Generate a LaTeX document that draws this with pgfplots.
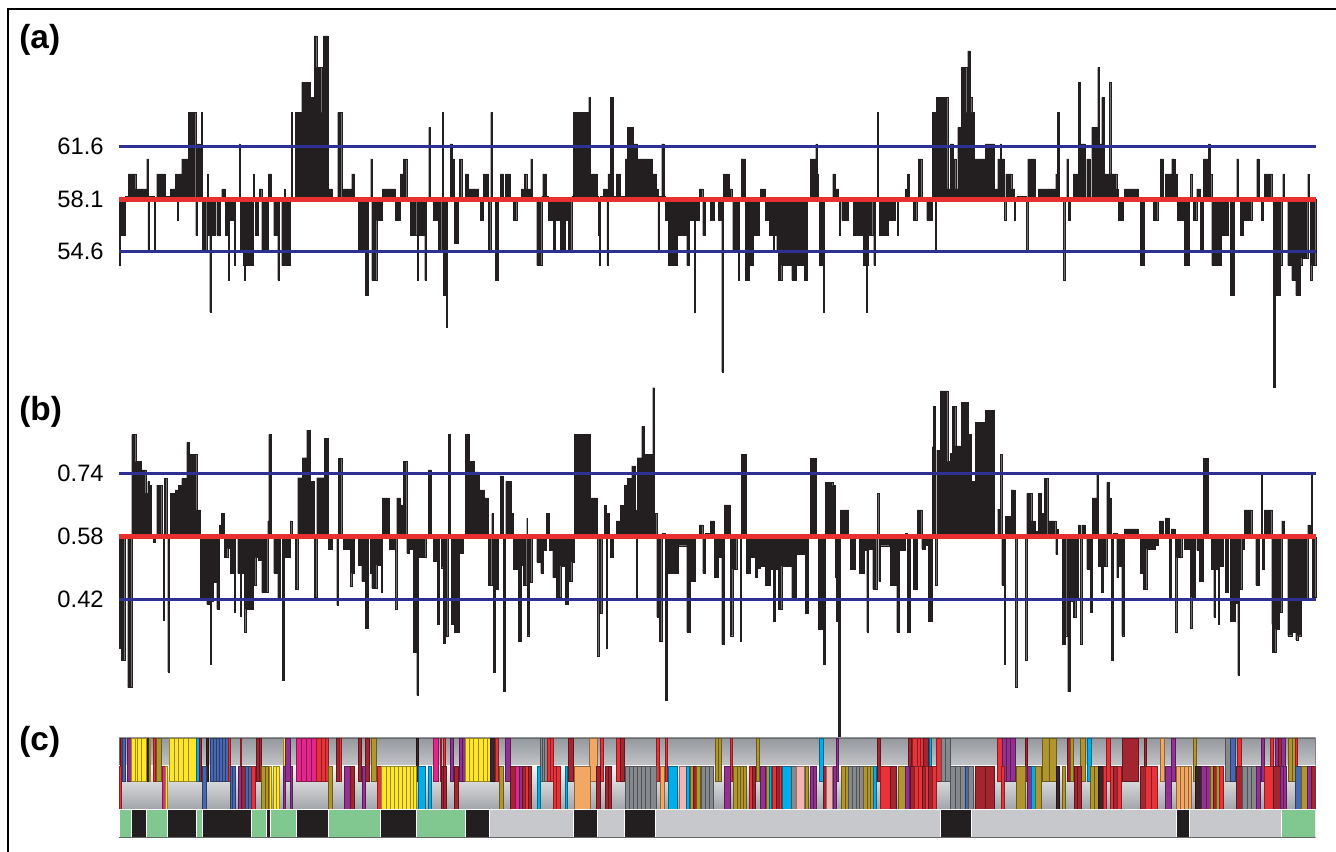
\documentclass[border=0pt]{standalone}
\usepackage{fontspec}
\setmainfont{Liberation Sans}
\usepackage{pgfplots}
\pgfplotsset{compat=1.18}
\usepackage{pgfplotstable}

\definecolor{barblack}{HTML}{231F20}
\definecolor{linered}{HTML}{E8312F}
\definecolor{lineblue}{HTML}{2E3192}
\definecolor{cY}{HTML}{FFE629}
\definecolor{cB}{HTML}{4767B1}
\definecolor{cM}{HTML}{E2268C}
\definecolor{cR}{HTML}{E8323A}
\definecolor{cDR}{HTML}{A32530}
\definecolor{cP}{HTML}{933191}
\definecolor{cO}{HTML}{B0962D}
\definecolor{cC}{HTML}{00AEEA}
\definecolor{cOR}{HTML}{F2A862}
\definecolor{cLP}{HTML}{F3B5B4}
\definecolor{cG}{HTML}{85898D}
\definecolor{cDK}{HTML}{3B2426}
\definecolor{cGR}{HTML}{80C88F}
\definecolor{cBK}{HTML}{231F20}
\definecolor{cLG}{HTML}{C6C8CC}
\definecolor{trackdark}{HTML}{95989D}
\definecolor{trackmid}{HTML}{DCDDE0}
\definecolor{tracklight}{HTML}{F4F4F4}
\definecolor{trackdark2}{HTML}{A2A5AA}

\pgfplotstableread[row sep=\\]{
x v\\
119 53.7\\ 120.5 55.7\\ 125 58.3\\ 128.3 59.8\\ 135.7 58.8\\ 146.7 60.8\\ 147.8 54.7\\ 149 58.3\\ 154 54.7\\ 155.3 58.1\\
156.7 59.8\\ 165 58.3\\ 170 58.8\\ 175 59.8\\ 177.5 56.7\\ 178.5 59.8\\ 181.7 60.8\\ 188.3 63.9\\ 195.7 55.7\\ 197 61.8\\
200 58.1\\ 201 63.9\\ 202.3 54.7\\ 206.7 58.1\\ 207.3 59.8\\ 208.3 55.7\\ 209.7 50.6\\ 210.7 55.7\\ 215 58.1\\ 216.7 55.7\\
220 58.1\\ 221.7 58.8\\ 225 55.7\\ 228 52.7\\ 229 58.1\\ 230 56.7\\ 234 53.7\\ 235 58.1\\ 239 61.8\\ 240 54.7\\
243.3 53.7\\ 244 52.7\\ 245 53.7\\ 253.3 59.8\\ 254.3 58.1\\ 255 55.7\\ 258.3 58.1\\ 259 58.8\\ 261.7 54.7\\ 268.3 59.8\\
271 58.1\\ 273.7 55.7\\ 277.7 52.7\\ 278.7 58.1\\ 281.7 53.7\\ 284 58.8\\ 285 53.7\\ 290 58.1\\ 291 63.9\\ 292 58.1\\
295 63.9\\ 301.7 65.9\\ 310 64.9\\ 314.3 69.0\\ 316.7 66.9\\ 321.7 63.9\\ 323.3 69.0\\ 328.3 58.8\\ 332.3 58.1\\ 337.7 63.9\\
341.7 58.1\\ 343.3 58.8\\ 351.7 59.8\\ 354.3 58.1\\ 358.3 54.7\\ 365 51.7\\ 368.3 58.1\\ 370.7 60.8\\ 371.7 52.7\\ 376.7 56.7\\
382.3 58.8\\ 395 56.7\\ 400 59.8\\ 403.3 60.8\\ 406.7 58.1\\ 410 55.7\\ 416.7 58.1\\ 417.3 52.7\\ 418.3 58.1\\ 419 55.7\\
424.7 52.7\\ 425.7 58.1\\ 428.7 62.9\\ 429.7 58.1\\ 433.3 56.7\\ 438.3 54.7\\ 441.7 58.1\\ 442 63.9\\ 443 51.7\\ 445 58.1\\
446.3 49.6\\ 447.3 58.1\\ 450 61.8\\ 452.3 60.8\\ 454.3 55.2\\ 458.3 58.1\\ 459.3 60.8\\ 461.7 58.1\\ 465 59.8\\ 468.3 58.8\\
478.3 58.1\\ 480 56.7\\ 483.3 59.8\\ 488.3 54.7\\ 490.7 63.9\\ 491.7 58.1\\ 495 52.7\\ 498.3 58.1\\ 500 59.8\\ 503.3 58.1\\
505 59.8\\ 510 58.1\\ 513.3 56.7\\ 516.7 58.1\\ 521 58.8\\ 523.3 58.1\\ 524.3 59.8\\ 526.7 58.8\\ 530 58.1\\ 530.7 60.8\\
531.7 58.1\\ 536.7 53.7\\ 541.7 58.3\\ 542.7 59.8\\ 546 58.3\\ 548.3 56.7\\ 553.3 54.7\\ 555 56.7\\ 560 54.7\\ 565 56.7\\
568.3 54.7\\ 571.7 58.3\\ 573.3 63.9\\ 588.7 64.9\\ 590 59.8\\ 597.3 58.3\\ 598 55.7\\ 599 53.7\\ 600 58.3\\ 603.3 58.8\\
606.8 53.7\\ 607.8 59.8\\ 610.5 64.9\\ 613.3 58.3\\ 616 59.8\\ 620 58.3\\ 625 60.8\\ 627.3 62.9\\ 633.3 61.8\\ 637.3 60.8\\
652 59.8\\ 656 58.8\\ 657.8 54.7\\ 658.8 58.3\\ 661.7 61.8\\ 664 58.3\\ 665 56.7\\ 668.3 53.7\\ 677.3 55.7\\ 686.7 53.7\\
689.3 58.1\\ 690 56.7\\ 694.5 50.6\\ 695.5 58.1\\ 696 56.7\\ 699.3 58.8\\ 702.7 55.7\\ 705.3 58.1\\ 710 56.7\\ 714 58.1\\
718.3 56.7\\ 721.7 46.6\\ 723.5 59.8\\ 729.3 58.1\\ 730 58.8\\ 731.7 58.1\\ 732.7 54.7\\ 738 52.7\\ 739 58.1\\ 741 60.8\\
745 52.7\\ 749.3 53.7\\ 753.3 55.7\\ 759.3 58.1\\ 760 58.8\\ 765 56.7\\ 769.3 55.7\\ 773 54.7\\ 774 55.7\\ 776.7 54.7\\
778.3 52.7\\ 781.7 53.7\\ 791.7 52.7\\ 796 53.7\\ 804 52.7\\ 807.3 58.1\\ 810 60.8\\ 815 58.8\\ 815.7 61.8\\ 816.7 59.8\\
818.3 58.1\\ 819.3 53.7\\ 823.5 50.6\\ 824.5 58.1\\ 832.7 59.8\\ 835 58.8\\ 838.3 58.1\\ 839 55.7\\ 840 58.1\\ 841.7 56.7\\
848.3 58.1\\ 853.3 55.7\\ 863.3 53.7\\ 866.5 50.6\\ 867.5 53.7\\ 868.3 55.7\\ 872.7 58.1\\ 873.7 53.7\\ 874.7 58.1\\ 877.3 63.9\\
878.3 58.1\\ 879.3 55.7\\ 888.3 58.1\\ 889.3 56.7\\ 895 58.1\\ 897 55.7\\ 898 58.1\\ 905 58.8\\ 907.5 59.8\\ 909 58.1\\
913.3 56.7\\ 916.7 58.1\\ 918.3 60.8\\ 921.7 58.1\\ 926.7 56.7\\ 932.3 63.9\\ 935 54.7\\ 936.3 64.9\\ 947.7 58.8\\ 950 61.8\\
953.3 60.8\\ 955.7 58.8\\ 957.7 62.9\\ 961 66.9\\ 966.7 63.9\\ 967.7 68.0\\ 970 64.9\\ 971.7 63.9\\ 974.3 60.8\\ 985 61.8\\
994.3 58.8\\ 997.7 60.8\\ 1000 61.8\\ 1001 60.8\\ 1004.3 56.7\\ 1005.7 59.8\\ 1011.7 58.8\\ 1014.5 56.7\\ 1015.5 58.1\\ 1016.7 58.3\\
1026.3 54.7\\ 1027.7 60.8\\ 1035 58.1\\ 1038.3 58.8\\ 1055.7 59.8\\ 1057.5 63.9\\ 1059 58.1\\ 1063.3 52.7\\ 1064.7 58.1\\ 1066.7 60.8\\
1068.3 56.7\\ 1070 58.1\\ 1073.3 59.8\\ 1078.3 65.9\\ 1080 61.8\\ 1085 58.1\\ 1086.7 60.8\\ 1090 58.1\\ 1091.7 62.9\\ 1097.7 66.9\\
1099 61.8\\ 1101.7 64.9\\ 1104 59.8\\ 1109 65.9\\ 1110.7 59.8\\ 1116.7 58.8\\ 1118.3 56.7\\ 1123.3 58.1\\ 1124.3 58.8\\ 1138.3 58.1\\
1140 53.7\\ 1144.3 58.1\\ 1153.3 56.7\\ 1157.7 58.1\\ 1160 60.8\\ 1163.3 58.1\\ 1165 59.8\\ 1171.7 60.8\\ 1175 59.8\\ 1177 56.7\\
1184.3 53.7\\ 1189 58.1\\ 1190 59.8\\ 1191.7 58.1\\ 1193.3 56.7\\ 1196.7 58.8\\ 1200 54.7\\ 1203.3 60.8\\ 1208.3 61.8\\ 1210 59.8\\
1211.7 53.7\\ 1221 55.7\\ 1224.3 56.7\\ 1225 55.7\\ 1228.3 58.1\\ 1230 51.7\\ 1234.3 58.1\\ 1236.7 60.8\\ 1238.3 58.1\\ 1240 55.7\\
1243.3 56.7\\ 1251.7 58.1\\ 1256.7 60.8\\ 1259 58.1\\ 1261 56.7\\ 1263.3 58.1\\ 1264.3 59.8\\ 1271.7 58.1\\ 1273.3 45.6\\ 1275 51.7\\
1280 53.7\\ 1281.7 58.1\\ 1282.7 59.8\\ 1284.3 58.1\\ 1287.7 53.7\\ 1291.7 52.7\\ 1295.7 51.7\\ 1300 53.7\\ 1301.7 54.2\\ 1307.7 59.8\\
1309 58.1\\ 1310 52.7\\ 1311.7 53.7\\ 1315.7 53.7\\
}\dataA

\pgfplotstableread[row sep=\\]{
x v\\
119 0.296\\ 121 0.266\\ 124.7 0.58\\ 127.7 0.196\\ 131.7 0.840\\ 135.7 0.771\\ 141 0.750\\ 145.7 0.690\\ 147.7 0.720\\ 149 0.711\\
151 0.58\\ 153.3 0.567\\ 155 0.58\\ 156.7 0.711\\ 161.7 0.58\\ 163.3 0.368\\ 164.3 0.728\\ 166.7 0.58\\ 167.7 0.236\\ 168.7 0.58\\
170 0.690\\ 175 0.699\\ 178.3 0.711\\ 181.7 0.728\\ 186.7 0.820\\ 189 0.790\\ 196.7 0.648\\ 200 0.423\\ 206.7 0.408\\ 210 0.255\\
211 0.415\\ 213.3 0.465\\ 216.7 0.396\\ 219 0.610\\ 221 0.639\\ 224.3 0.527\\ 227.7 0.550\\ 230 0.487\\ 234.3 0.387\\ 235.5 0.58\\
237.7 0.487\\ 240 0.379\\ 241.3 0.487\\ 244.3 0.337\\ 245.7 0.396\\ 253.3 0.457\\ 255.7 0.527\\ 258.3 0.521\\ 261.7 0.438\\ 267.7 0.620\\
268.7 0.840\\ 271.3 0.58\\ 273.7 0.487\\ 277 0.58\\ 277.7 0.423\\ 280 0.58\\ 282.3 0.215\\ 284 0.527\\ 290 0.620\\ 291.7 0.58\\
295 0.447\\ 297.7 0.730\\ 302.3 0.781\\ 306.7 0.851\\ 310 0.720\\ 314.3 0.427\\ 316.7 0.730\\ 324.3 0.830\\ 328.3 0.549\\ 332.3 0.58\\
336.7 0.406\\ 338 0.779\\ 341.7 0.58\\ 343.3 0.549\\ 350 0.453\\ 351.7 0.487\\ 354.3 0.58\\ 358.3 0.508\\ 361.7 0.467\\ 365 0.347\\
368.3 0.58\\ 370 0.487\\ 371.7 0.449\\ 376.7 0.508\\ 381 0.438\\ 382.3 0.679\\ 389 0.549\\ 395 0.396\\ 396.7 0.679\\ 400 0.661\\
403.3 0.771\\ 406.7 0.538\\ 409 0.549\\ 413.3 0.287\\ 416.7 0.177\\ 418.3 0.527\\ 425.7 0.58\\ 428.3 0.750\\ 431 0.58\\ 433.3 0.518\\
437.3 0.357\\ 439 0.58\\ 441 0.501\\ 443.3 0.309\\ 445 0.326\\ 447.7 0.58\\ 448.3 0.840\\ 450 0.58\\ 451 0.357\\ 454.3 0.337\\
459.3 0.58\\ 460 0.538\\ 463.3 0.58\\ 465 0.840\\ 469 0.771\\ 474.3 0.745\\ 479 0.699\\ 484.3 0.679\\ 488.3 0.457\\ 491.7 0.639\\
493.3 0.236\\ 495 0.447\\ 498.3 0.58\\ 500 0.735\\ 503.3 0.186\\ 505 0.58\\ 505.7 0.720\\ 511 0.639\\ 513.3 0.498\\ 518.3 0.315\\
521 0.508\\ 523.3 0.457\\ 526.7 0.628\\ 527.3 0.328\\ 529.3 0.465\\ 531.7 0.58\\ 536.7 0.516\\ 540.7 0.487\\ 543.3 0.546\\ 546 0.639\\
549.3 0.546\\ 552.7 0.476\\ 556 0.427\\ 560.7 0.506\\ 565 0.408\\ 568.3 0.467\\ 571.7 0.516\\ 574 0.840\\ 590 0.679\\ 597.3 0.277\\
598.7 0.58\\ 599.3 0.385\\ 601.7 0.58\\ 604 0.659\\ 606 0.296\\ 607.3 0.639\\ 609.3 0.58\\ 610 0.527\\ 613.3 0.58\\ 616 0.620\\
620 0.659\\ 624 0.710\\ 627.3 0.728\\ 631.7 0.760\\ 635 0.648\\ 636.5 0.423\\ 637.3 0.781\\ 641.7 0.860\\ 644 0.789\\ 652.7 0.959\\
654.3 0.639\\ 656.7 0.376\\ 657.7 0.58\\ 659.3 0.315\\ 661.7 0.588\\ 665 0.164\\ 667.3 0.487\\ 678.3 0.557\\ 686.7 0.337\\ 690 0.467\\
695 0.58\\ 699.3 0.610\\ 702.7 0.487\\ 705 0.588\\ 710 0.620\\ 714 0.476\\ 718.3 0.527\\ 721.7 0.306\\ 724 0.661\\ 730 0.328\\
732.7 0.498\\ 736.7 0.58\\ 740 0.315\\ 741 0.789\\ 746 0.487\\ 750 0.527\\ 755 0.476\\ 757.3 0.499\\ 760 0.506\\ 765 0.457\\
770 0.498\\ 773.3 0.365\\ 775 0.498\\ 778.3 0.396\\ 781.7 0.506\\ 791.7 0.423\\ 796 0.535\\ 805 0.385\\ 808.3 0.58\\ 810 0.779\\
816 0.58\\ 818.3 0.345\\ 823.3 0.255\\ 825 0.718\\ 832.7 0.710\\ 835 0.476\\ 836 0.365\\ 838.5 0.067\\ 840.5 0.648\\ 848.3 0.58\\
850 0.498\\ 855 0.58\\ 859.3 0.487\\ 864 0.546\\ 866.7 0.337\\ 868.3 0.58\\ 869.3 0.549\\ 872.7 0.447\\ 876.7 0.58\\ 877.3 0.690\\
878.7 0.467\\ 880 0.557\\ 889.3 0.58\\ 890 0.457\\ 896 0.58\\ 896.7 0.337\\ 899.3 0.546\\ 905 0.588\\ 907.3 0.337\\ 910 0.58\\
913.3 0.447\\ 917.3 0.648\\ 921.7 0.549\\ 925 0.559\\ 928.3 0.365\\ 932.3 0.809\\ 933.3 0.911\\ 935 0.457\\ 936.7 0.800\\ 940 0.951\\
947.7 0.771\\ 950 0.792\\ 952.3 0.911\\ 955.7 0.811\\ 961 0.922\\ 968.3 0.840\\ 971 0.720\\ 974.3 0.58\\ 975 0.871\\ 985 0.902\\
994.3 0.58\\ 997.7 0.650\\ 1000 0.789\\ 1001.7 0.457\\ 1004 0.255\\ 1005.3 0.631\\ 1011 0.699\\ 1015 0.196\\ 1016.7 0.58\\ 1025 0.266\\
1026.7 0.690\\ 1031.7 0.620\\ 1035 0.593\\ 1038.3 0.690\\ 1041 0.639\\ 1044.3 0.728\\ 1047.7 0.58\\ 1049 0.620\\ 1055.7 0.535\\ 1056.7 0.600\\
1058.3 0.58\\ 1062.3 0.306\\ 1065 0.328\\ 1066.7 0.58\\ 1067.7 0.186\\ 1070 0.415\\ 1073.3 0.376\\ 1075.7 0.423\\ 1078.3 0.610\\ 1080 0.306\\
1081.7 0.610\\ 1085 0.58\\ 1086.7 0.498\\ 1090 0.387\\ 1092.3 0.679\\ 1096.7 0.737\\ 1098.3 0.506\\ 1101 0.438\\ 1103.3 0.506\\ 1106.7 0.718\\
1109.3 0.679\\ 1111 0.266\\ 1113.3 0.588\\ 1116.7 0.476\\ 1118.3 0.506\\ 1121.7 0.328\\ 1124.3 0.600\\ 1138.3 0.58\\ 1140 0.487\\ 1143.3 0.447\\
1146.7 0.549\\ 1155 0.559\\ 1158.3 0.58\\ 1159.3 0.620\\ 1163.3 0.58\\ 1165 0.628\\ 1169 0.427\\ 1171 0.600\\ 1175 0.337\\ 1176.7 0.527\\
1181.7 0.58\\ 1184.3 0.549\\ 1189 0.58\\ 1190 0.347\\ 1191.7 0.427\\ 1195 0.58\\ 1196.7 0.546\\ 1199 0.467\\ 1203.3 0.779\\ 1208.3 0.58\\
1211 0.498\\ 1213.7 0.376\\ 1214.7 0.498\\ 1218.3 0.357\\ 1219.5 0.506\\ 1223.3 0.58\\ 1225 0.438\\ 1228.3 0.58\\ 1230 0.365\\ 1235 0.410\\
1237.7 0.228\\ 1239.3 0.447\\ 1241.7 0.58\\ 1243.3 0.549\\ 1244.3 0.648\\ 1251.7 0.58\\ 1255.7 0.457\\ 1259 0.58\\ 1261 0.737\\ 1262.3 0.498\\
1264.3 0.648\\ 1271.7 0.357\\ 1272.3 0.286\\ 1275.7 0.345\\ 1279 0.387\\ 1281.7 0.620\\ 1284.3 0.58\\ 1287.7 0.328\\ 1292.3 0.337\\ 1295.7 0.317\\
1297.7 0.328\\ 1301 0.423\\ 1307.7 0.610\\ 1310 0.58\\ 1311 0.737\\ 1312.3 0.427\\ 1315.7 0.427\\
}\dataB

% gene boxes: upper strand row, lower strand row, bottom segment bar
\newcommand\gu[3]{\addplot[fill=c#3,draw=c#3!60!black,line width=0.3pt] coordinates {(#1,738)(#2,738)(#2,781)(#1,781)} -- cycle;}
\newcommand\gl[3]{\addplot[fill=c#3,draw=c#3!60!black,line width=0.3pt] coordinates {(#1,766)(#2,766)(#2,809)(#1,809)} -- cycle;}
\newcommand\sg[3]{\addplot[fill=c#3,draw=white,line width=0.4pt] coordinates {(#1,809)(#2,809)(#2,837)(#1,837)} -- cycle;}

\pgfplotsset{
  panel/.style={scale only axis, width=23.934cm, xmin=119, xmax=1315.7,
    axis line style={draw=none}, tick style={draw=none}, xtick=\empty,
    anchor=south west, /pgf/number format/assume math mode=true,
    yticklabel style={font=\fontsize{13.5}{16}\selectfont, inner sep=0pt, xshift=-0.3cm}},
}

\begin{document}
\begin{tikzpicture}
\path[use as bounding box] (0,0) rectangle (26.72cm,17.04cm);
\draw[line width=0.03cm] (0.16cm,0) -- (0.16cm,16.86cm) -- (26.72cm,16.86cm);

% ---------- panel (a)
\begin{axis}[panel, at={(2.38cm,9.2cm)}, height=7.28cm, ymin=-12.847, ymax=11.42, clip=false,
  ytick={-3.5,0,3.5}, yticklabels={54.6,58.1,61.6}]
\addplot[ybar interval, fill=barblack, draw=barblack, line width=0.2pt] table[x=x, y expr=\thisrow{v}-58.1]{\dataA};
\addplot[lineblue, line width=1.8pt] coordinates {(119,3.5) (1315.7,3.5)};
\addplot[lineblue, line width=1.8pt] coordinates {(119,-3.5) (1315.7,-3.5)};
\addplot[linered, line width=2.7pt] coordinates {(119,0) (1315.7,0)};
\end{axis}

% ---------- panel (b)
\begin{axis}[panel, at={(2.38cm,2.22cm)}, height=7.16cm, ymin=-0.5198, ymax=0.3911, clip=false,
  ytick={-0.16,0,0.16}, yticklabels={0.42,0.58,0.74}]
\addplot[ybar interval, fill=barblack, draw=barblack, line width=0.2pt] table[x=x, y expr=\thisrow{v}-0.58]{\dataB};
\addplot[lineblue, line width=1.8pt] coordinates {(119,0.16) (1315.7,0.16)};
\addplot[lineblue, line width=1.8pt] coordinates {(119,-0.16) (1315.7,-0.16)};
\addplot[linered, line width=2.7pt] coordinates {(119,0) (1315.7,0)};
\end{axis}

% ---------- panel (c)
\begin{axis}[panel, at={(2.38cm,0.24cm)}, height=2.1cm, ymin=735, ymax=840, y dir=reverse, ytick=\empty, clip=true]
\addplot[draw=trackdark!70!black, line width=0.4pt, top color=trackdark, bottom color=trackmid] coordinates {(119,738)(1315.7,738)(1315.7,781)(119,781)} -- cycle;
\addplot[draw=none, top color=tracklight, bottom color=trackdark2] coordinates {(119,766)(1315.7,766)(1315.7,809)(119,809)} -- cycle;
% upper strand
\gu{120}{122.3}{DR}\gu{122.3}{125}{B}\gu{127.7}{131.7}{P}\gu{131.7}{135.7}{Y}\gu{135.7}{137.7}{Y}\gu{137.7}{141.7}{Y}
\gu{141.7}{146}{Y}\gu{146}{147.7}{Y}\gu{147.7}{149}{DK}\gu{149}{150.5}{Y}\gu{153.3}{155}{R}\gu{156.7}{161.7}{O}
\gu{169.3}{174}{Y}\gu{174}{178}{Y}\gu{178}{183}{Y}\gu{183}{188}{Y}\gu{188}{196.7}{Y}\gu{196.7}{199}{C}\gu{199}{201}{DR}
\gu{206.7}{208.3}{DK}\gu{210}{213}{B}\gu{213}{216}{B}\gu{216}{219}{B}\gu{219}{222}{B}\gu{222}{225}{B}\gu{225}{228.3}{B}
\gu{228.3}{230}{R}\gu{240}{241.7}{R}\gu{256.7}{259}{DR}\gu{259}{261.7}{DR}\gu{283.3}{285.7}{Y}\gu{285.7}{290}{P}
\gu{296.7}{301}{M}\gu{301}{306}{M}\gu{306}{311}{M}\gu{311}{316.7}{M}\gu{316.7}{321.7}{R}\gu{321.7}{325}{R}\gu{325}{328.3}{R}
\gu{336.7}{339}{DR}\gu{339}{341.7}{R}\gu{358.3}{361}{DR}\gu{365.7}{369}{DR}\gu{371.7}{376.7}{O}\gu{416.7}{418.3}{DK}
\gu{433.3}{438.3}{M}\gu{440}{441.7}{R}\gu{443.3}{445.7}{R}\gu{450}{453.3}{P}\gu{459}{462}{P}\gu{462}{465}{P}
\gu{465}{469}{Y}\gu{469}{473}{Y}\gu{473}{478}{Y}\gu{478}{483}{Y}\gu{483}{487}{Y}\gu{487}{490}{Y}\gu{490}{495}{DK}
\gu{495}{498.3}{R}\gu{505}{510}{P}\gu{540.7}{542}{G}\gu{542}{544}{G}\gu{544}{547.3}{G}\gu{547.3}{550}{R}\gu{550}{553.3}{R}
\gu{568.3}{573.3}{DR}\gu{589.3}{597.3}{OR}\gu{600}{603.3}{R}\gu{616}{620}{R}\gu{620}{624}{DR}\gu{656.7}{659.3}{R}
\gu{665}{667.3}{R}\gu{715}{718}{O}\gu{718}{721.7}{O}\gu{730}{732.3}{R}\gu{756.7}{759.3}{O}\gu{819.3}{823.3}{C}
\gu{836}{838.3}{P}\gu{877.3}{880.7}{DR}\gu{908.3}{911.7}{DR}\gu{912.7}{917}{R}\gu{917}{920}{R}\gu{920}{923.3}{R}
\gu{923.3}{928.3}{DR}\gu{929}{931}{C}\gu{936.7}{941}{R}\gu{941}{945}{G}\gu{945}{950}{G}\gu{997.7}{1002.3}{R}
\gu{1002.3}{1006}{P}\gu{1006}{1010}{P}\gu{1010}{1015}{P}\gu{1025}{1027.7}{DR}\gu{1042.3}{1049}{O}\gu{1049}{1056.7}{O}
\gu{1067.7}{1070}{DR}\gu{1070}{1073.3}{O}\gu{1080}{1085}{O}\gu{1087.7}{1091}{C}\gu{1106.7}{1110}{R}\gu{1122.3}{1138.3}{DR}
\gu{1144.3}{1146.7}{DR}\gu{1160}{1164.3}{OR}\gu{1171}{1175}{P}\gu{1193.3}{1196.7}{O}\gu{1225}{1230}{G}\gu{1230}{1235}{B}
\gu{1237.7}{1241.7}{R}\gu{1261}{1264.3}{P}\gu{1270}{1273.3}{R}\gu{1275}{1278}{P}\gu{1278}{1281}{DR}\gu{1281}{1285}{P}
\gu{1288.3}{1292}{O}\gu{1292}{1295}{O}\gu{1295}{1297.7}{R}
% lower strand
\gl{119}{121}{R}\gl{162.3}{165}{M}\gl{165}{167.7}{Y}\gl{202.3}{206.7}{B}\gl{230}{232.5}{B}\gl{232.5}{235}{B}
\gl{238.3}{241.7}{P}\gl{241.7}{245}{DR}\gl{245}{248}{B}\gl{248}{251.7}{B}\gl{251.7}{255.7}{R}\gl{261.7}{265}{O}
\gl{265}{268.3}{O}\gl{269}{271.7}{Y}\gl{273.3}{276}{Y}\gl{276}{279}{Y}\gl{283.3}{285.7}{P}\gl{290}{292.3}{P}
\gl{328.3}{332.3}{O}\gl{344}{350}{P}\gl{350}{354.3}{DR}\gl{362.3}{365.7}{P}\gl{377.7}{381.7}{R}\gl{381.7}{386}{Y}
\gl{386}{390}{Y}\gl{390}{394}{Y}\gl{394}{398}{Y}\gl{398}{402}{Y}\gl{402}{406}{Y}\gl{406}{410}{Y}\gl{410}{413}{Y}
\gl{413}{416.7}{Y}\gl{418.3}{425}{C}\gl{428.3}{431.7}{C}\gl{441}{443.7}{DR}\gl{443.7}{446.7}{DR}\gl{454.3}{458.3}{DR}
\gl{499}{503.3}{O}\gl{510}{515}{DR}\gl{515}{519}{M}\gl{519}{522}{P}\gl{522}{525}{DR}\gl{525}{528}{R}\gl{528}{531.7}{DR}
\gl{537.3}{540.7}{C}\gl{553.3}{556}{R}\gl{556}{560}{R}\gl{565}{567.3}{C}\gl{574}{590}{OR}\gl{596.7}{600}{DR}
\gl{605}{608}{DR}\gl{608}{611.7}{DR}\gl{625}{629}{G}\gl{629}{633}{G}\gl{633}{637}{G}\gl{637}{641}{G}\gl{641}{645}{G}
\gl{645}{650}{G}\gl{650}{656.7}{G}\gl{660}{664}{OR}\gl{668.3}{677.3}{C}\gl{679.3}{686}{LP}\gl{686.7}{689.3}{C}
\gl{690}{693}{O}\gl{693}{696}{DR}\gl{696}{700}{O}\gl{701.7}{705}{G}\gl{705}{709}{G}\gl{709}{713.3}{G}\gl{724}{730}{P}
\gl{733.3}{737}{O}\gl{737}{740}{O}\gl{740}{743.5}{O}\gl{743.5}{746.7}{O}\gl{749.3}{752}{R}\gl{752}{755}{DR}
\gl{760}{765}{P}\gl{766.7}{769.3}{O}\gl{769.3}{771.7}{C}\gl{772.7}{776}{R}\gl{776}{779}{DR}\gl{779}{781.7}{R}
\gl{782.7}{791.7}{C}\gl{791.7}{796.7}{G}\gl{796.7}{804}{LP}\gl{805}{808.3}{O}\gl{810}{813}{P}\gl{813}{816.7}{P}
\gl{823.3}{826}{DR}\gl{826}{832.7}{LP}\gl{833.3}{836.7}{P}\gl{841.7}{845}{O}\gl{845}{848.3}{O}\gl{848.3}{852}{G}
\gl{852}{856}{G}\gl{856}{859.5}{G}\gl{859.5}{863.3}{G}\gl{863.3}{867}{O}\gl{867}{870}{O}\gl{870}{873.3}{O}
\gl{873.3}{876}{C}\gl{880}{890}{R}\gl{890}{896.7}{DR}\gl{898.3}{905}{O}\gl{905}{909.3}{P}\gl{910}{914}{DR}
\gl{914}{918}{R}\gl{918}{922}{R}\gl{922}{925}{DR}\gl{925}{928}{R}\gl{928}{932}{DR}\gl{932}{936.7}{R}\gl{950}{955}{G}
\gl{955}{960}{G}\gl{960}{965}{G}\gl{965}{968}{B}\gl{968}{973.3}{G}\gl{975}{985}{DR}\gl{985}{994.3}{DR}
\gl{1001.7}{1004.3}{R}\gl{1016.7}{1025}{O}\gl{1027.7}{1031}{P}\gl{1031}{1035}{C}\gl{1035}{1041}{O}\gl{1056.7}{1059}{DK}
\gl{1062.3}{1065}{O}\gl{1074.3}{1077.5}{DR}\gl{1077.5}{1081}{DR}\gl{1090}{1094}{O}\gl{1094}{1098.3}{O}
\gl{1098.3}{1103.3}{DK}\gl{1103.3}{1106.7}{R}\gl{1110}{1113}{R}\gl{1113}{1117}{DR}\gl{1117}{1121.7}{R}
\gl{1140}{1145}{DR}\gl{1145}{1151}{R}\gl{1151}{1157.7}{R}\gl{1165}{1171}{P}\gl{1176.7}{1180.5}{OR}\gl{1180.5}{1184.3}{OR}
\gl{1184.3}{1188}{OR}\gl{1188}{1191.7}{OR}\gl{1195.7}{1201.7}{DK}\gl{1201.7}{1206}{P}\gl{1206}{1210}{P}
\gl{1210}{1213}{O}\gl{1213}{1216}{DR}\gl{1216}{1219.5}{O}\gl{1219.5}{1223.3}{R}\gl{1236.7}{1242.3}{DR}
\gl{1242.3}{1247}{G}\gl{1247}{1251}{G}\gl{1251}{1256}{G}\gl{1256}{1260}{P}\gl{1264.3}{1273.3}{R}\gl{1273.3}{1280}{DR}
\gl{1280}{1283}{P}\gl{1283}{1286.7}{P}\gl{1295.7}{1301.7}{B}\gl{1301.7}{1307.7}{O}\gl{1307.7}{1311.7}{P}\gl{1311.7}{1315.7}{DR}
% segment bar
\sg{119}{131.7}{GR}\sg{131.7}{146}{BK}\sg{146}{167.7}{GR}\sg{167.7}{196}{BK}\sg{196}{202.3}{GR}\sg{202.3}{251.7}{BK}
\sg{251.7}{266.7}{GR}\sg{266.7}{270.3}{BK}\sg{270.3}{296}{GR}\sg{296}{328.3}{BK}\sg{328.3}{380.7}{GR}\sg{380.7}{416}{BK}
\sg{416}{465}{GR}\sg{465}{489.3}{BK}\sg{489.3}{573.3}{LG}\sg{573.3}{597.3}{BK}\sg{597.3}{624.3}{LG}\sg{624.3}{655.7}{BK}
\sg{655.7}{940}{LG}\sg{940}{971.7}{BK}\sg{971.7}{1176.7}{LG}\sg{1176.7}{1189}{BK}\sg{1189}{1281.7}{LG}\sg{1281.7}{1315.7}{GR}
\addplot[draw=black!60, line width=0.5pt] coordinates {(119,837) (1315.7,837)};
\end{axis}

\node[anchor=west, font=\bfseries\fontsize{19}{22}\selectfont, inner sep=0pt] at (0.38cm,16.24cm) {(a)};
\node[anchor=west, font=\bfseries\fontsize{19}{22}\selectfont, inner sep=0pt] at (0.38cm,8.8cm) {(b)};
\node[anchor=west, font=\bfseries\fontsize{19}{22}\selectfont, inner sep=0pt] at (0.38cm,2.2cm) {(c)};
\end{tikzpicture}
\end{document}
